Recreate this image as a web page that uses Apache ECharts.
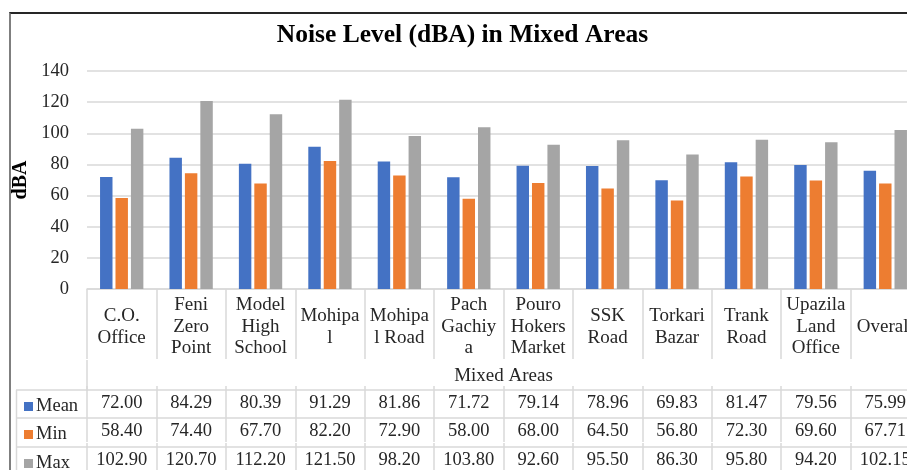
<!DOCTYPE html>
<html>
<head>
<meta charset="utf-8">
<script src="https://cdn.jsdelivr.net/npm/echarts@6/dist/echarts.min.js"></script>
<style>
html,body{margin:0;padding:0;width:907px;height:470px;overflow:hidden;background:#fff;}
#chart{position:absolute;left:0;top:0;width:925px;height:470px;}
#frame{position:absolute;left:9px;top:12px;width:940px;height:480px;border-left:2px solid #7f7f7f;border-top:2px solid #262626;pointer-events:none;}
</style>
</head>
<body>
<div id="chart"></div>
<div id="frame"></div>
<script>
// Data
const categories = ["C.O.\nOffice","Feni\nZero\nPoint","Model\nHigh\nSchool","Mohipa\nl","Mohipa\nl Road","Pach\nGachiy\na","Pouro\nHokers\nMarket","SSK\nRoad","Torkari\nBazar","Trank\nRoad","Upazila\nLand\nOffice","Overall"];
const meanVals = [72.00,84.29,80.39,91.29,81.86,71.72,79.14,78.96,69.83,81.47,79.56,75.99];
const minVals  = [58.40,74.40,67.70,82.20,72.90,58.00,68.00,64.50,56.80,72.30,69.60,67.71];
const maxVals  = [102.90,120.70,112.20,121.50,98.20,103.80,92.60,95.50,86.30,95.80,94.20,102.15];
const seriesNames = ["Mean","Min","Max"];
const colors = ["#4472C4","#ED7D31","#A5A5A5"];
const yTicks = {min:0,max:140,interval:20};

const FONT = "Liberation Serif";
const GRID = "#d9d9d9";
const TXT = "#262626";

const chart = echarts.init(document.getElementById('chart'), null, {renderer:'canvas'});

const rows = [meanVals,minVals,maxVals];
const rowOffsets = [97,125,154];

const xAxes = [{
  type:'category', data:categories, gridIndex:0, position:'bottom',
  axisLine:{show:true,lineStyle:{color:GRID,width:1.5}},
  axisTick:{show:true,length:70,interval:0,alignWithLabel:false,lineStyle:{color:GRID,width:1.5}},
  axisLabel:{interval:0,margin:38,verticalAlign:'middle',color:TXT,fontFamily:FONT,fontSize:19,lineHeight:21.5},
  name:'Mixed Areas', nameLocation:'middle', nameGap:87,
  nameTextStyle:{color:TXT,fontFamily:FONT,fontSize:19,verticalAlign:'middle'}
}];
rows.forEach((vals,k)=>{
  xAxes.push({
    type:'category', data:categories, gridIndex:0, position:'bottom', offset:rowOffsets[k],
    axisLine:{show:false},
    axisTick:{show:true,length:28,interval:0,alignWithLabel:false,lineStyle:{color:GRID,width:1.5}},
    axisLabel:{interval:0,margin:17.5,verticalAlign:'middle',color:TXT,fontFamily:FONT,fontSize:18.5,
      formatter:(v,i)=>vals[i].toFixed(2)}
  });
});

const hLines = [390,418,447].map(y=>({
  type:'line', shape:{x1:16,y1:y,x2:925,y2:y}, style:{stroke:GRID,lineWidth:1.5}, silent:true
}));

const option = {
  animation:false,
  backgroundColor:'#fff',
  title:{text:'Noise Level (dBA) in Mixed Areas',left:'center',top:22,padding:0,
    textStyle:{fontFamily:FONT,fontSize:25.5,fontWeight:'bold',color:'#000'}},
  legend: seriesNames.map((n,k)=>({
    data:[n], left:24, top:[397,425,454][k], orient:'vertical', padding:0,
    icon:'rect', itemWidth:9, itemHeight:9, itemGap:0,
    textStyle:{fontFamily:FONT,fontSize:18.5,color:TXT,padding:[3,0,0,-2]},
    selectedMode:false
  })),
  grid:{left:87,right:5,top:71,bottom:177,containLabel:false},
  xAxis:xAxes,
  yAxis:{type:'value',min:yTicks.min,max:yTicks.max,interval:yTicks.interval,
    axisLine:{show:false},axisTick:{show:false},
    splitLine:{show:true,lineStyle:{color:GRID,width:1.5}},
    axisLabel:{margin:18,color:TXT,fontFamily:FONT,fontSize:18.5,padding:[4,0,0,0]},
    name:'dBA',nameLocation:'middle',nameGap:46,nameRotate:90,
    nameTextStyle:{fontFamily:FONT,fontSize:20,fontWeight:'bold',color:'#000'}},
  graphic: hLines.concat([
    {type:'line',shape:{x1:16.5,y1:390,x2:16.5,y2:470},style:{stroke:GRID,lineWidth:1.5},silent:true},
    {type:'line',shape:{x1:87,y1:360,x2:87,y2:391},style:{stroke:GRID,lineWidth:1.5},silent:true}
  ]),
  series: seriesNames.map((n,k)=>({
    name:n, type:'bar', data:rows[k], xAxisIndex:0,
    barGap:'24%', barCategoryGap:'37.6%',
    itemStyle:{color:colors[k]}
  }))
};
chart.setOption(option);
</script>
</body>
</html>
